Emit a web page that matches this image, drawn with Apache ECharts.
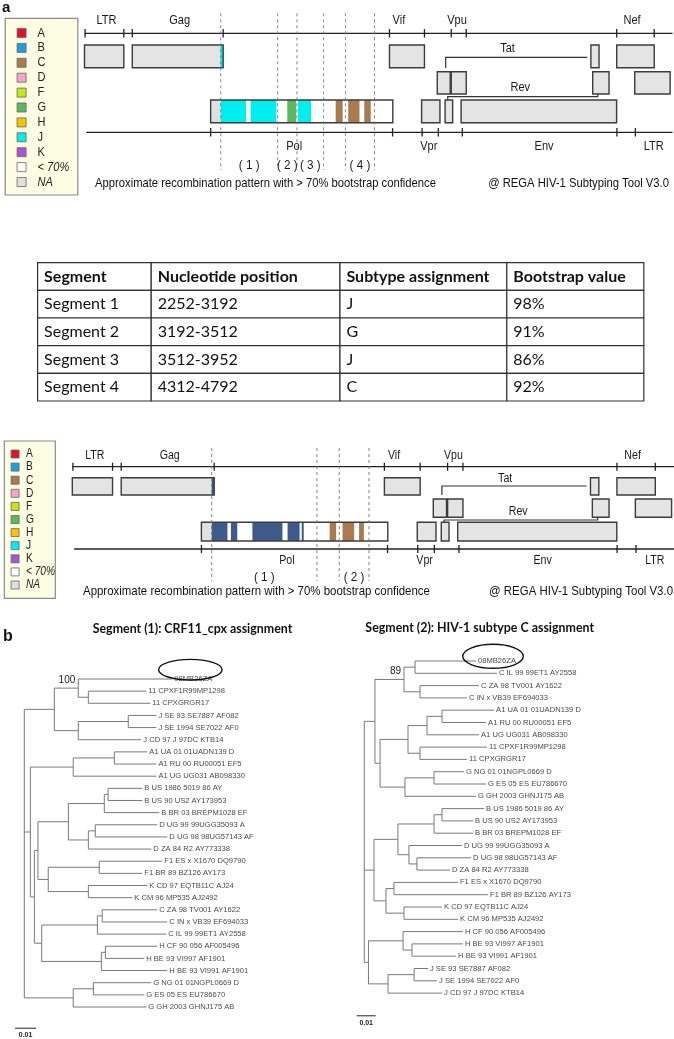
<!DOCTYPE html>
<html><head><meta charset="utf-8">
<script src="https://cdn.jsdelivr.net/npm/echarts@6/dist/echarts.min.js"></script>
<style>html,body{margin:0;padding:0;background:#fff}#c{width:674px;height:1039px}</style>
</head><body><div id="c"></div>
<script>
// ================= DATA =================
const genomeLength = 9719;
const subtypeKeys   = ['A','B','C','D','F','G','H','J','K','< 70%','NA'];
const subtypeColors = ['#e4102a','#1e9fdc','#a97c50','#f5a6c8','#c6e614','#5cb85c','#f2c500','#00eeee','#a855d6','#ffffff','#e0e0e0'];
const subtypeColors2 = {B:'#3d5a88'}; // colour used for B in the second pattern

// HXB2 gene map
const geneNames  = ["5'LTR","Gag","Vif","Tat ex2","Nef","Tat ex1","Vpu","Rev ex2","3'LTR","Pol","Vpr","Rev ex1","Env"];
const geneStart  = [0,   790, 5041, 8370, 8797, 5831, 6062, 8400, 9095, 2085, 5572, 5960, 6225];
const geneEnd    = [650, 2292,5619, 8505, 9417, 6045, 6310, 8670, 9680, 5096, 5875, 6085, 8795];
const geneFrame  = [1,1,1,1,1,2,2,2,2,3,3,3,3];
const topTicks    = [10,650,790,2292,5041,5619,6062,6310,8797,9417];
const bottomTicks = [2086,5092,5580,5848,6245,8800,9105];
const topLabelText = ['LTR','Gag','Vif','Vpu','Nef'];
const topLabelPos  = [363,1573,5197,6157,9050];
const bottomLabelText = ['Pol','Vpr','Env','LTR'];
const bottomLabelPos  = [3465,5690,7597,9410];
const spliceNames = ['Tat','Rev'];
const spliceFrom  = [5970,6004];
const spliceTo    = [8308,8485];
const spliceLabelPos = [6992,7202];

// recombination pattern 1 (four segments)
const pattern1Start = [2085,2252,2745,3352,3530,4152,4359,4624,2246];
const pattern1End   = [2252,2670,3172,3500,3745,4267,4545,4731,2292];
const pattern1Type  = ['NA','J','J','G','J','C','C','C','J'];
const pattern1Frame = [3,3,3,3,3,3,3,3,1];
const breaks1 = [2252,3192,3512,3952,4312,4792];
const segLabels1 = ['( 1 )','( 2 )','( 3 )','( 4 )'];
const segLabelPos1 = [2722,3352,3732,4552];

// recombination pattern 2 (two segments)
const pattern2Start = [2085,2252,2562,2909,3477,3706,4157,4365,4632,2252];
const pattern2End   = [2252,2506,2665,3394,3671,3738,4262,4553,4710,2292];
const pattern2Type  = ['NA','B','B','B','B','B','C','C','C','B'];
const pattern2Frame = [3,3,3,3,3,3,3,3,3,1];
const breaks2 = [2252,3952,4312,4792];
const segLabels2 = ['( 1 )','( 2 )'];
const segLabelPos2 = [3102,4552];

// table
const tableHeader = ['Segment','Nucleotide position','Subtype assignment','Bootstrap value'];
const tableSegment = ['Segment 1','Segment 2','Segment 3','Segment 4'];
const tablePosition = ['2252-3192','3192-3512','3512-3952','4312-4792'];
const tableSubtype = ['J','G','J','C'];
const tableBootstrap = ['98%','91%','86%','92%'];

// tree 1 : internal nodes [id, parent, depth x 0.001]
const tree1Nodes = [
 ['r',null,0],['T','r',14.3],['CRF','T',25.7],['C2','CRF',30.5],['Jc','T',25.7],['J2','Jc',49.5],
 ['M','r',2.9],['A1','M',23.3],['A1s','A1',42.9],['N','M',4.8],['P','N',6.5],['BD','P',21.0],
 ['Bn','BD',38.1],['Bs','Bn',39.9],['Dn','BD',30.5],['Ds','Dn',33.8],['FK','P',11.4],['F1','FK',35.7],
 ['Kn','FK',30.5],['CH','N',8.3],['Cn','CH',34.8],['Cs','Cn',37.1],['Hn','CH',36.7],['Hs','Hn',38.6],
 ['G','r',23.3],['Gs','G',32.9]
];
// tree 1 : leaves in display order [label, parent, depth x 0.001]
const tree1Leaves = [
 ['08MB26ZA','CRF',70.5],['11 CPXF1R99MP1298','C2',58.1],['11 CPXGRGR17','C2',60.0],
 ['J SE 93 SE7887 AF082','J2',62.9],['J SE 1994 SE7022 AF0','J2',62.9],['J CD 97 J 97DC KTB14','Jc',55.7],
 ['A1 UA 01 01UADN139 D','A1s',58.6],['A1 RU 00 RU00051 EF5','A1s',62.9],['A1 UG UG031 AB098330','A1',62.9],
 ['B US 1986 5019 86 AY','Bs',56.2],['B US 90 US2 AY173953','Bs',56.2],['B BR 03 BREPM1028 EF','Bn',64.3],
 ['D UG 99 99UGG35093 A','Ds',63.3],['D UG 98 98UG57143 AF','Ds',68.1],['D ZA 84 R2 AY773338','Dn',60.5],
 ['F1 ES x X1670 DQ9790','F1',65.7],['F1 BR 89 BZ126 AY173','F1',56.2],
 ['K CD 97 EQTB11C AJ24','Kn',58.6],['K CM 96 MP535 AJ2492','Kn',51.4],
 ['C ZA 98 TV001 AY1622','Cs',63.3],['C IN x VB39 EF694033','Cs',68.1],['C IL 99 99ET1 AY2558','Cn',67.6],
 ['H CF 90 056 AF005496','Hs',63.3],['H BE 93 VI997 AF1901','Hs',57.1],['H BE 93 VI991 AF1901','Hn',68.1],
 ['G NG 01 01NGPL0669 D','Gs',60.5],['G ES 05 ES EU786670','Gs',57.1],['G GH 2003 GHNJ175 AB','G',58.1]
];
const tree1Bootstrap = [['CRF','100']];

const tree2Nodes = [
 ['r',null,0],['TOP','r',5.6],['CC','TOP',20.9],['S1','CC',26.7],['S2','CC',29.3],['R2','TOP',8.3],
 ['A11','R2',23.0],['A1','A11',33.0],['A1s','A1',40.9],['X11','A11',29.3],['G','R2',21.4],['Gs','G',36.7],
 ['Q','r',5.1],['BD','Q',17.7],['Bn','BD',36.7],['Bs','Bn',40.9],['Dn','BD',23.5],['Ds','Dn',27.7],
 ['FK','Q',11.4],['F1','FK',15.6],['Kn','FK',20.9],
 ['HJ','r',2.2],['Hn','HJ',20.4],['Hs','Hn',25.1],['Jn','HJ',12.5],['Js','Jn',26.2]
];
const tree2Leaves = [
 ['08MB26ZA','S1',58.8],['C IL 99 99ET1 AY2558','S1',69.8],['C ZA 98 TV001 AY1622','S2',60.4],['C IN x VB39 EF694033','S2',54.1],
 ['A1 UA 01 01UADN139 D','A1s',68.3],['A1 RU 00 RU00051 EF5','A1s',64.1],['A1 UG UG031 AB098330','A1',60.4],
 ['11 CPXF1R99MP1298','X11',64.6],['11 CPXGRGR17','X11',54.1],
 ['G NG 01 01NGPL0669 D','Gs',52.5],['G ES 05 ES EU786670','Gs',64.1],['G GH 2003 GHNJ175 AB','G',58.8],
 ['B US 1986 5019 86 AY','Bs',63.0],['B US 90 US2 AY173953','Bs',57.2],['B BR 03 BREPM1028 EF','Bn',57.2],
 ['D UG 99 99UGG35093 A','Dn',51.4],['D UG 98 98UG57143 AF','Ds',56.2],['D ZA 84 R2 AY773338','Ds',45.1],
 ['F1 ES x X1670 DQ9790','F1',49.3],['F1 BR 89 BZ126 AY173','F1',65.1],
 ['K CD 97 EQTB11C AJ24','Kn',40.9],['K CM 96 MP535 AJ2492','Kn',49.3],
 ['H CF 90 056 AF005496','Hn',51.9],['H BE 93 VI997 AF1901','Hs',51.9],['H BE 93 VI991 AF1901','Hs',48.3],
 ['J SE 93 SE7887 AF082','Js',33.5],['J SE 1994 SE7022 AF0','Js',38.3],['J CD 97 J 97DC KTB14','Jn',40.9]
];
const tree2Bootstrap = [['CC','89']];
const queryLeaf = '08MB26ZA';
const scaleBarLength = 0.01;

// ================= LAYOUT / STYLE =================
const SANS = "'Liberation Sans',Arial,sans-serif";
const LATO = "Lato,'Open Sans',sans-serif";
const NX = 0.85; // horizontal condensing used to mimic a narrow Helvetica
const panels = [
 {top:0, left:84.5, width:588, rulerTop:33.3, rulerBot:132.3, tick:4.2,
  rows:{1:[45,67.7],2:[71.7,94],3:[100,122.7]}, topLabelY:20, botLabelY:146.7,
  tat:[48.3,57.3,68], rev:[87.3,96.7,100,94], dash:[13.3,170], segLabelY:165.7, font:13,
  legend:{x:5.2,y:18.3,w:72.6,h:176.7,sqX:21.6,sq:9,txtX:37.6,y0:33,dy:14.9,font:13},
  caption:{y:183.3,lx:95,rx:669,font:13,sx:0.865},
  pat:[pattern1Start,pattern1End,pattern1Type,pattern1Frame], breaks:breaks1, segLabels:segLabels1, segLabelPos:segLabelPos1, pal:{}},
 {top:405, left:72.3, width:605.5, rulerTop:61.7, rulerBot:144, tick:4,
  rows:{1:[72.7,90],2:[94,112.3],3:[117.3,136]}, topLabelY:50.7, botLabelY:155.7,
  tat:[74,81,90], rev:[106.7,115,117.3,112.3], dash:[43,176], segLabelY:172.3, font:12.5,
  legend:{x:4.3,y:441,w:51,h:157.3,sqX:15.1,sq:8,txtX:25.9,y0:454,dy:13.1,font:12},
  caption:{y:591,lx:83,rx:673,font:13,sx:0.88},
  pat:[pattern2Start,pattern2End,pattern2Type,pattern2Frame], breaks:breaks2, segLabels:segLabels2, segLabelPos:segLabelPos2, pal:subtypeColors2}
];
const table = {left:37.6, top:262.7, width:606.2, height:138.3, colEdges:[0,0.1874,0.4988,0.774,1], font:16};
const trees = [
 {nodes:tree1Nodes, leaves:tree1Leaves, boot:tree1Bootstrap, left:24.3, top:679, pxPerUnit:2100, height:328,
  ell:[18,-9.3,31.7,10.3], bar:{x0:-0.0044,row:28.75}, title:'Segment (1): CRF11_cpx assignment', titleX:192.5, titleY:629.3},
 {nodes:tree2Nodes, leaves:tree2Leaves, boot:tree2Bootstrap, left:364.3, top:661, pxPerUnit:1900, height:332.1,
  ell:[17,-4.7,30.3,12], bar:{x0:-0.004,row:28.84}, title:'Segment (2): HIV-1 subtype C assignment', titleX:479.7, titleY:627.7}
];
const LINE = '#222', BOX_FILL = '#e4e4e4', BOX_STROKE = '#3c3c3c', TREE_LINE = '#7a7a7a';

// condensed text element helper
function ntext(x, y, text, size, align, extra){
  return Object.assign({type:'text', x:x, y:y, scaleX:NX,
    style:{text:text, x:0, y:0, font:size+'px '+SANS, fill:'#1a1a1a', align:align||'center', verticalAlign:'middle'}}, extra||{});
}

// ================= BUILD =================
const grids = [], xAxes = [], yAxes = [], series = [], graphics = [];
function addGrid(g, xr, yr){
  const i = grids.length;
  grids.push(Object.assign({containLabel:false, show:false}, g));
  xAxes.push({type:'value', gridIndex:i, min:xr[0], max:xr[1], show:false});
  yAxes.push({type:'value', gridIndex:i, min:yr[0], max:yr[1], inverse:true, show:false});
  return i;
}
function colorOf(type, pal){ return pal[type] || subtypeColors[subtypeKeys.indexOf(type)]; }

panels.forEach((L) => {
  const gi = addGrid({left:L.left, top:L.top, width:L.width, height:200}, [0, genomeLength], [0,200]);
  const base = {type:'custom', coordinateSystem:'cartesian2d', xAxisIndex:gi, yAxisIndex:gi, silent:true, animation:false};
  // ruler ticks
  series.push(Object.assign({}, base, {z:3,
    data: topTicks.map(p=>[p,0]).concat(bottomTicks.map(p=>[p,1])),
    renderItem:(params, api)=>{
      const y = api.value(1)===0 ? L.rulerTop : L.rulerBot;
      const a = api.coord([api.value(0), y-L.tick]), b = api.coord([api.value(0), y+L.tick]);
      return {type:'line', shape:{x1:a[0],y1:a[1],x2:b[0],y2:b[1]}, style:{stroke:LINE, lineWidth:1.3}};
    }}));
  // ruler lines
  series.push(Object.assign({}, base, {z:3,
    data: [[0, genomeLength, L.rulerTop],[30, genomeLength, L.rulerBot]],
    renderItem:(params, api)=>{
      const a = api.coord([api.value(0), api.value(2)]), b = api.coord([api.value(1), api.value(2)]);
      return {type:'line', shape:{x1:a[0],y1:a[1],x2:b[0],y2:b[1]}, style:{stroke:LINE, lineWidth:1.3}};
    }}));
  // gene boxes (fill)
  series.push(Object.assign({}, base, {z:4,
    data: geneStart.map((s,i)=>[s, geneEnd[i], geneFrame[i]]),
    renderItem:(params, api)=>{
      const r = L.rows[api.value(2)];
      const a = api.coord([api.value(0), r[0]]), b = api.coord([api.value(1), r[1]]);
      const isPol = geneNames[params.dataIndex]==='Pol';
      return {type:'rect', shape:{x:a[0],y:a[1],width:b[0]-a[0],height:b[1]-a[1]}, style:{fill:isPol?'#ffffff':BOX_FILL}};
    }}));
  // recombination pattern
  series.push(Object.assign({}, base, {z:5,
    data: L.pat[0].map((s,i)=>[s, L.pat[1][i], L.pat[3][i]]),
    renderItem:(params, api)=>{
      const r = L.rows[api.value(2)];
      const a = api.coord([api.value(0), r[0]]), b = api.coord([api.value(1), r[1]]);
      return {type:'rect', shape:{x:a[0],y:a[1],width:b[0]-a[0],height:b[1]-a[1]}, style:{fill:colorOf(L.pat[2][params.dataIndex], L.pal)}};
    }}));
  // gene box outlines
  series.push(Object.assign({}, base, {z:6,
    data: geneStart.map((s,i)=>[s, geneEnd[i], geneFrame[i]]),
    renderItem:(params, api)=>{
      const r = L.rows[api.value(2)];
      const a = api.coord([api.value(0), r[0]]), b = api.coord([api.value(1), r[1]]);
      return {type:'rect', shape:{x:a[0],y:a[1],width:b[0]-a[0],height:b[1]-a[1]}, style:{fill:null, stroke:BOX_STROKE, lineWidth:1.4}};
    }}));
  // splice connectors (Tat / Rev)
  series.push(Object.assign({}, base, {z:4,
    data: spliceFrom.map((s,i)=>[s, spliceTo[i], spliceLabelPos[i]]),
    renderItem:(params, api)=>{
      const isTat = params.dataIndex===0;
      const c = isTat ? L.tat : L.rev;
      const a = api.coord([api.value(0), c[1]]), b = api.coord([api.value(1), c[1]]);
      const d = api.coord([api.value(0), c[2]]);
      const t = api.coord([api.value(2), c[0]]);
      const pts = [[d[0],d[1]],[a[0],a[1]],[b[0],b[1]]];
      if(!isTat) pts.push([b[0], api.coord([0,c[3]])[1]]);
      return {type:'group', children:[
        {type:'polyline', shape:{points:pts}, style:{stroke:'#333', lineWidth:1.2, fill:null}},
        ntext(t[0], t[1], spliceNames[params.dataIndex], L.font, 'center')
      ]};
    }}));
  // gene labels
  const labs = topLabelPos.map(p=>[p,0]).concat(bottomLabelPos.map(p=>[p,1]));
  const labText = topLabelText.concat(bottomLabelText);
  series.push(Object.assign({}, base, {z:6, data:labs,
    renderItem:(params, api)=>{
      const p = api.coord([api.value(0), api.value(1)===0 ? L.topLabelY : L.botLabelY]);
      return ntext(p[0], p[1], labText[params.dataIndex], L.font, 'center');
    }}));
  // breakpoints (dashed)
  series.push(Object.assign({}, base, {z:8, data:L.breaks.map(b=>[b]),
    renderItem:(params, api)=>{
      const a = api.coord([api.value(0), L.dash[0]]), b = api.coord([api.value(0), L.dash[1]]);
      return {type:'line', shape:{x1:a[0],y1:a[1],x2:b[0],y2:b[1]}, style:{stroke:'#777', lineWidth:0.9, lineDash:[3,3]}};
    }}));
  // segment numbers
  series.push(Object.assign({}, base, {z:8, data:L.segLabelPos.map(p=>[p]),
    renderItem:(params, api)=>{
      const p = api.coord([api.value(0), L.segLabelY]);
      return ntext(p[0], p[1], L.segLabels[params.dataIndex], 13, 'center', {scaleX:0.9});
    }}));
  // legend box
  const lg = L.legend;
  graphics.push({type:'rect', shape:{x:lg.x, y:lg.y, width:lg.w, height:lg.h}, style:{fill:'#fdfde4', stroke:'#8a8a8a', lineWidth:1.2}, z:1});
  subtypeKeys.forEach((k,i)=>{
    const yy = lg.y0 + i*lg.dy;
    graphics.push({type:'rect', shape:{x:lg.sqX-lg.sq/2, y:yy-lg.sq/2, width:lg.sq, height:lg.sq}, style:{fill:subtypeColors[i], stroke:'#666', lineWidth:0.8}, z:2});
    const ital = (k==='< 70%'||k==='NA') ? 'italic ' : '';
    graphics.push({type:'text', x:lg.txtX, y:yy, scaleX:NX, z:2,
      style:{text:k, x:0, y:0, font:ital+lg.font+'px '+SANS, fill:'#222', align:'left', verticalAlign:'middle'}});
  });
  // captions
  graphics.push({type:'text', x:L.caption.lx, y:L.caption.y, scaleX:L.caption.sx,
    style:{text:'Approximate recombination pattern with > 70% bootstrap confidence', x:0, y:0, font:L.caption.font+'px '+SANS, fill:'#111', align:'left', verticalAlign:'middle'}});
  graphics.push({type:'text', x:L.caption.rx, y:L.caption.y, scaleX:L.caption.sx,
    style:{text:'@ REGA HIV-1 Subtyping Tool V3.0', x:0, y:0, font:L.caption.font+'px '+SANS, fill:'#111', align:'right', verticalAlign:'middle'}});
});

// ---- table ----
{
  const gi = addGrid({left:table.left, top:table.top, width:table.width, height:table.height}, [0,1], [0,5]);
  const cols = [tableSegment, tablePosition, tableSubtype, tableBootstrap];
  const cells = [];
  tableHeader.forEach((h,ci)=>cells.push([ci,0,h]));
  tableSegment.forEach((s,ri)=>cols.forEach((c,ci)=>cells.push([ci,ri+1,c[ri]])));
  series.push({type:'custom', coordinateSystem:'cartesian2d', xAxisIndex:gi, yAxisIndex:gi, silent:true, animation:false, z:5,
    data: cells.map(c=>[c[0],c[1]]),
    renderItem:(params, api)=>{
      const ci = api.value(0), ri = api.value(1);
      const a = api.coord([table.colEdges[ci], ri]), b = api.coord([table.colEdges[ci+1], ri+1]);
      return {type:'group', children:[
        {type:'rect', shape:{x:a[0],y:a[1],width:b[0]-a[0],height:b[1]-a[1]}, style:{fill:'#fff', stroke:'#333', lineWidth:1.2}},
        {type:'text', style:{text:cells[params.dataIndex][2], x:a[0]+6.5, y:(a[1]+b[1])/2, font:(ri===0?'bold ':'')+table.font+'px '+LATO, fill:'#111', align:'left', verticalAlign:'middle'}}
      ]};
    }});
}

// ---- trees ----
function layoutTree(nodes, leaves){
  const depth={}, parent={}, kids={}, y={};
  nodes.forEach(([id,p,d])=>{depth[id]=d/1000; parent[id]=p; kids[id]=[];});
  leaves.forEach(([n,p,d],i)=>{const id='leaf'+i; depth[id]=d/1000; parent[id]=p; kids[id]=[]; y[id]=i;});
  Object.keys(parent).forEach(id=>{ if(parent[id]!==null) kids[parent[id]].push(id); });
  const gy = id => { if(y[id]!==undefined) return y[id]; const ys=kids[id].map(gy); y[id]=(Math.min(...ys)+Math.max(...ys))/2; return y[id]; };
  gy('r');
  const segs=[];
  Object.keys(parent).forEach(id=>{
    const p=parent[id];
    if(p!==null) segs.push([depth[p], y[id], depth[id], y[id]]);
    if(kids[id].length){ const ys=kids[id].map(k=>y[k]); segs.push([depth[id], Math.min(...ys), depth[id], Math.max(...ys)]); }
  });
  return {segs, y, depth};
}
trees.forEach(T=>{
  const lay = layoutTree(T.nodes, T.leaves);
  const gi = addGrid({left:T.left, top:T.top, width:T.pxPerUnit*0.1, height:T.height}, [0,0.1], [0,T.leaves.length-1]);
  const base = {type:'custom', coordinateSystem:'cartesian2d', xAxisIndex:gi, yAxisIndex:gi, silent:true, animation:false};
  series.push(Object.assign({}, base, {z:4, data:lay.segs,
    renderItem:(params, api)=>{
      const a = api.coord([api.value(0), api.value(1)]), b = api.coord([api.value(2), api.value(3)]);
      return {type:'line', shape:{x1:a[0],y1:a[1],x2:b[0],y2:b[1]}, style:{stroke:TREE_LINE, lineWidth:1}};
    }}));
  series.push(Object.assign({}, base, {z:5, data:T.leaves.map((l,i)=>[l[2]/1000, i]),
    renderItem:(params, api)=>{
      const p = api.coord([api.value(0), api.value(1)]);
      const name = T.leaves[params.dataIndex][0];
      const kids = [{type:'text', style:{text:name, x:p[0]+2, y:p[1], font:'7.6px '+SANS, fill:'#4a4a4a', align:'left', verticalAlign:'middle'}}];
      if(name===queryLeaf){
        kids.push({type:'ellipse', shape:{cx:p[0]+T.ell[0], cy:p[1]+T.ell[1], rx:T.ell[2], ry:T.ell[3]}, style:{fill:null, stroke:'#111', lineWidth:1.4}});
      }
      return {type:'group', children:kids};
    }}));
  series.push(Object.assign({}, base, {z:5, data:T.boot.map(b=>[lay.depth[b[0]], lay.y[b[0]]]),
    renderItem:(params, api)=>{
      const p = api.coord([api.value(0), api.value(1)]);
      return {type:'text', style:{text:T.boot[params.dataIndex][1], x:p[0]-3, y:p[1]-8, font:'10px '+SANS, fill:'#222', align:'right', verticalAlign:'middle'}};
    }}));
  series.push(Object.assign({}, base, {z:5, data:[[T.bar.x0, T.bar.x0+scaleBarLength, T.bar.row]],
    renderItem:(params, api)=>{
      const a = api.coord([api.value(0), api.value(2)]), b = api.coord([api.value(1), api.value(2)]);
      return {type:'group', children:[
        {type:'line', shape:{x1:a[0],y1:a[1],x2:b[0],y2:b[1]}, style:{stroke:'#555', lineWidth:1.3}},
        {type:'text', style:{text:String(scaleBarLength), x:(a[0]+b[0])/2, y:a[1]+7, font:'bold 7px '+SANS, fill:'#222', align:'center', verticalAlign:'middle'}}
      ]};
    }}));
  graphics.push({type:'text', x:T.titleX, y:T.titleY, style:{text:T.title, x:0, y:0, font:'bold 12.4px '+LATO, fill:'#111', align:'center', verticalAlign:'middle'}});
});

graphics.push({type:'text', x:2, y:8, style:{text:'a', x:0, y:0, font:'bold 15px '+SANS, fill:'#111', align:'left', verticalAlign:'middle'}});
graphics.push({type:'text', x:3, y:637, style:{text:'b', x:0, y:0, font:'bold 16px '+SANS, fill:'#111', align:'left', verticalAlign:'middle'}});

const chart = echarts.init(document.getElementById('c'));
chart.setOption({animation:false, backgroundColor:'#fff', grid:grids, xAxis:xAxes, yAxis:yAxes, series:series, graphic:{elements:graphics}});
</script></body></html>
